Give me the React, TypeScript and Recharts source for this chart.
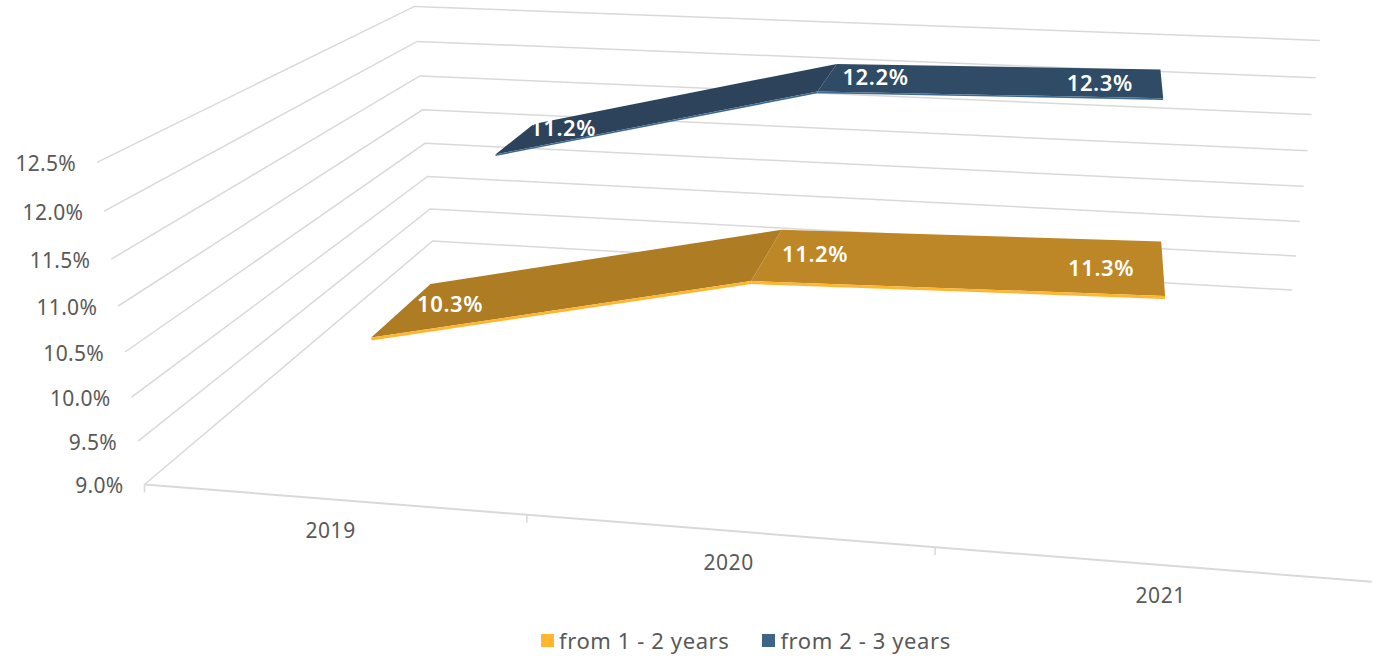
import React from 'react';
import { LineChart, Line, XAxis, YAxis, ReferenceLine, Legend } from 'recharts';

const years = ['2019', '2020', '2021'];
const oneToTwo = [10.3, 11.2, 11.3];
const twoToThree = [11.2, 12.2, 12.3];
const valueTicks = [9, 9.5, 10, 10.5, 11, 11.5, 12, 12.5];
const rows = years.map((year, i) => ({ year, oneToTwo: oneToTwo[i], twoToThree: twoToThree[i] }));

const W = 1381;
const H = 656;
const PLOT = { left: 20, top: 10, width: 1351, height: 604 };
const FONT = '"Noto Sans", sans-serif';
const GRID = '#d9d9d9';
const TEXT = '#595959';
const yearNudge = [-2, 1, 11];

// camera calibration: [u, v, w] in the unit box -> screen pixel
const leftFront = [[144, 482], [137, 440], [131, 395], [124, 350], [118, 305], [111, 258], [104, 210], [97, 161]];
const leftBack = [[432, 240], [430, 209], [427, 176], [425, 144], [422, 111], [420, 78], [417, 44], [415, 10]];
const rightBack = [[1292, 289], [1296, 255], [1300, 220], [1304, 185], [1308, 150], [1312, 113], [1316, 77], [1320, 39]];

function solveCamera() {
  const anchors: number[][] = [];
  for (let i = 0; i < 8; i++) {
    anchors.push([0, i / 7, 0, ...leftFront[i]]);
    anchors.push([0, i / 7, 1, ...leftBack[i]]);
    anchors.push([1, i / 7, 1, ...rightBack[i]]);
  }
  // the floor edge counts for more, it is only three points against 24
  for (let i = 0; i < 3; i++) {
    anchors.push([1, 0, 0, 1367, 585]);
    anchors.push([1 / 3, 0, 0, 527, 514]);
    anchors.push([2 / 3, 0, 0, 941, 549]);
  }
  const A: number[][] = [];
  const b: number[] = [];
  anchors.forEach(([u, v, w, x, y]) => {
    A.push([u, v, w, 1, 0, 0, 0, 0, -x * u, -x * v, -x * w]);
    b.push(x);
    A.push([0, 0, 0, 0, u, v, w, 1, -y * u, -y * v, -y * w]);
    b.push(y);
  });
  const n = 11;
  const M = Array.from({ length: n }, (_, r) => {
    const row = new Array(n + 1).fill(0);
    A.forEach((eq, k) => {
      for (let c = 0; c < n; c++) row[c] += eq[r] * eq[c];
      row[n] += eq[r] * b[k];
    });
    return row;
  });
  for (let c = 0; c < n; c++) {
    let p = c;
    for (let r = c + 1; r < n; r++) if (Math.abs(M[r][c]) > Math.abs(M[p][c])) p = r;
    [M[c], M[p]] = [M[p], M[c]];
    for (let r = 0; r < n; r++) {
      if (r === c) continue;
      const f = M[r][c] / M[c][c];
      for (let k = c; k <= n; k++) M[r][k] -= f * M[c][k];
    }
  }
  return M.map((row, i) => row[n] / row[i]);
}

const cam = solveCamera();
const project = (u: number, v: number, w: number) => {
  const d = cam[8] * u + cam[9] * v + cam[10] * w + 1;
  return {
    x: (cam[0] * u + cam[1] * v + cam[2] * w + cam[3]) / d,
    y: (cam[4] * u + cam[5] * v + cam[6] * w + cam[7]) / d,
  };
};
const toU = (x: number) => (x - PLOT.left) / PLOT.width;
const toV = (y: number) => (PLOT.top + PLOT.height - y) / PLOT.height;
const pathOf = (pts: { x: number; y: number }[], close = false) =>
  pts.map((p, i) => `${i ? 'L' : 'M'}${p.x.toFixed(1)},${p.y.toFixed(1)}`).join('') + (close ? 'Z' : '');

const WallLine = (props: any) => {
  const v = toV(props.y1);
  return <path d={pathOf([project(0, v, 0), project(0, v, 1), project(1, v, 1)])} fill="none" stroke={GRID} strokeWidth={1.5} />;
};
const FloorEdge = (props: any) => {
  const v = toV(props.y1);
  return <path d={pathOf([project(0, v, 0), project(1, v, 0)])} fill="none" stroke={GRID} strokeWidth={2} />;
};

const ValueTick = ({ y, payload }: any) => {
  const p = project(0, toV(y), 0);
  return (
    <text x={p.x - 21} y={p.y + 9} textAnchor="end" fontFamily={FONT} fontSize={21} letterSpacing={0.3} fill={TEXT}>
      {payload.value.toFixed(1)}%
    </text>
  );
};

const YearTick = ({ x, payload, index }: any) => {
  const u = toU(x);
  const label = project(u, 0, 0);
  const marks = [u + 1 / 6];
  if (index === 0) marks.push(0);
  return (
    <g>
      {marks.filter((m) => m < 0.99).map((m) => {
        const p = project(m, 0, 0);
        return <path key={m} d={`M${p.x},${p.y}v8`} stroke={GRID} strokeWidth={1.5} />;
      })}
      <text x={label.x + yearNudge[index]} y={label.y + 39} textAnchor="middle" fontFamily={FONT} fontSize={21} letterSpacing={0.6} fill={TEXT}>
        {payload.value}
      </text>
    </g>
  );
};

// one ribbon piece per point, from this point to the next, plus the value label
const ribbon = (front: number, back: number, tops: string[], edge: string, thick: number, firstDy: number) => (props: any) => {
  const { cx, cy, index, points, value } = props;
  const u = toU(cx);
  const v = toV(cy);
  const next = points[index + 1];
  const mid = project(u, v, (front + back) / 2);
  const last = index === points.length - 1;
  let top = null;
  let strip = null;
  if (next) {
    const u2 = toU(next.x);
    const v2 = toV(next.y);
    top = pathOf([project(u, v, front), project(u2, v2, front), project(u2, v2, back), project(u, v, back)], true);
    strip = pathOf([project(u, v, front), project(u2, v2, front), project(u2, v2 - thick, front), project(u, v - thick, front)], true);
  }
  return (
    <g key={`r${index}`}>
      {top && <path d={top} fill={tops[index]} />}
      {strip && <path d={strip} fill={edge} />}
      <text
        x={mid.x + (last ? -62 : 48)}
        y={mid.y + (index === 0 ? firstDy : 8)}
        textAnchor="middle"
        fontFamily={FONT}
        fontSize={22}
        fontWeight={600}
        letterSpacing={0.6}
        fill="#ffffff"
      >
        {(Array.isArray(value) ? value[1] : value).toFixed(1)}%
      </text>
    </g>
  );
};

const LegendRow = ({ payload }: any) => (
  <div style={{ display: 'flex', paddingLeft: 531, fontFamily: FONT, fontSize: 22, letterSpacing: 0.6, color: TEXT, lineHeight: '32px' }}>
    {(payload || []).map((item: any) => (
      <span key={item.value} style={{ display: 'flex', alignItems: 'center', marginRight: 33 }}>
        <span style={{ width: 13, height: 13, background: item.color, marginRight: 5 }} />
        {item.value}
      </span>
    ))}
  </div>
);

export default function App() {
  return (
    <div style={{ position: 'absolute', left: 0, top: 0, width: W, height: H, background: '#fff' }}>
      <LineChart width={W} height={H} data={rows} margin={{ top: 10, right: 10, left: 10, bottom: 0 }}>
        <XAxis dataKey="year" scale="band" height={10} axisLine={false} tickLine={false} tick={<YearTick />} interval={0} />
        <YAxis domain={[9, 12.5]} ticks={valueTicks} width={10} axisLine={false} tickLine={false} tick={<ValueTick />} interval={0} />
        {valueTicks.map((t) => (
          <ReferenceLine key={t} y={t} shape={<WallLine />} />
        ))}
        <ReferenceLine y={9} shape={<FloorEdge />} />
        <Legend height={32} content={<LegendRow />} />
        <Line
          dataKey="oneToTwo"
          name="from 1 - 2 years"
          stroke="#ffb52e"
          strokeWidth={0}
          isAnimationActive={false}
          dot={ribbon(0.155, 0.365, ['#ae7c22', '#bd8626'], '#ffb52e', 0.009, 2)}
        />
        <Line
          dataKey="twoToThree"
          name="from 2 - 3 years"
          stroke="#3e6487"
          strokeWidth={0}
          isAnimationActive={false}
          dot={ribbon(0.66, 0.85, ['#2c435b', '#304b65'], '#3e6a8f', 0.006, -3)}
        />
      </LineChart>
    </div>
  );
}
